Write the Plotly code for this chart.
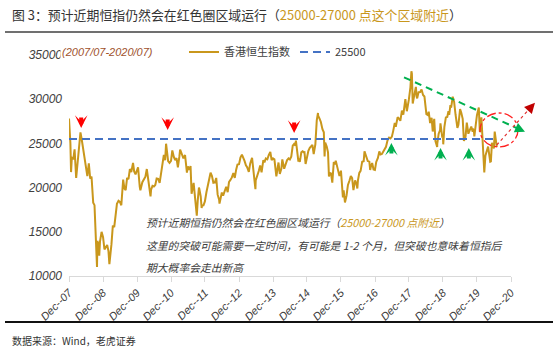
import plotly.graph_objects as go

# ---------------- data ----------------
dates = [
    "2007-12-31",
    "2008-01-15", "2008-01-22", "2008-01-31", "2008-02-15", "2008-02-29", "2008-03-17", "2008-03-31",
    "2008-04-15", "2008-04-30", "2008-05-02", "2008-05-15", "2008-05-30", "2008-06-16", "2008-06-30",
    "2008-07-15", "2008-07-31", "2008-08-15", "2008-08-29", "2008-09-16", "2008-09-30", "2008-10-10",
    "2008-10-27", "2008-10-31", "2008-11-14", "2008-11-20", "2008-11-28", "2008-12-15", "2008-12-31",
    "2009-01-15", "2009-01-30", "2009-02-13", "2009-02-27", "2009-03-09", "2009-03-31", "2009-04-15",
    "2009-04-30", "2009-05-15", "2009-05-29", "2009-06-15", "2009-06-30", "2009-07-15", "2009-07-31",
    "2009-08-04", "2009-08-17", "2009-08-31", "2009-09-15", "2009-09-30", "2009-10-15", "2009-10-30",
    "2009-11-18", "2009-11-30", "2009-12-15", "2009-12-31",
    "2010-01-11", "2010-01-29", "2010-02-05", "2010-02-26", "2010-03-15", "2010-03-31", "2010-04-15",
    "2010-04-30", "2010-05-25", "2010-05-31", "2010-06-15", "2010-06-30", "2010-07-15", "2010-07-30",
    "2010-08-15", "2010-08-31", "2010-09-15", "2010-09-30", "2010-10-15", "2010-10-29", "2010-11-08",
    "2010-11-30", "2010-12-15", "2010-12-31",
    "2011-01-14", "2011-01-31", "2011-02-14", "2011-02-28", "2011-03-15", "2011-03-31", "2011-04-08",
    "2011-04-29", "2011-05-13", "2011-05-31", "2011-06-20", "2011-06-30", "2011-07-15", "2011-07-29",
    "2011-08-09", "2011-08-31", "2011-09-15", "2011-09-30", "2011-10-04", "2011-10-14", "2011-10-27",
    "2011-10-31", "2011-11-15", "2011-11-25", "2011-11-30", "2011-12-15", "2011-12-30",
    "2012-01-16", "2012-01-31", "2012-02-15", "2012-02-29", "2012-03-15", "2012-03-30", "2012-04-16",
    "2012-04-30", "2012-05-15", "2012-05-31", "2012-06-04", "2012-06-29", "2012-07-13", "2012-07-31",
    "2012-08-15", "2012-08-31", "2012-09-14", "2012-09-28", "2012-10-15", "2012-10-31", "2012-11-15",
    "2012-11-30", "2012-12-14", "2012-12-31",
    "2013-01-15", "2013-01-31", "2013-02-15", "2013-02-28", "2013-03-15", "2013-03-28", "2013-04-15",
    "2013-04-30", "2013-05-20", "2013-05-31", "2013-06-25", "2013-06-28", "2013-07-15", "2013-07-31",
    "2013-08-15", "2013-08-30", "2013-09-18", "2013-09-30", "2013-10-15", "2013-10-31", "2013-11-15",
    "2013-11-29", "2013-12-02", "2013-12-16", "2013-12-31",
    "2014-01-15", "2014-01-31", "2014-02-05", "2014-02-28", "2014-03-14", "2014-03-31", "2014-04-10",
    "2014-04-30", "2014-05-15", "2014-05-30", "2014-06-16", "2014-06-30", "2014-07-15", "2014-07-31",
    "2014-08-15", "2014-08-29", "2014-09-03", "2014-09-15", "2014-09-30", "2014-10-06", "2014-10-15",
    "2014-10-31", "2014-11-14", "2014-11-28", "2014-12-04", "2014-12-16", "2014-12-31",
    "2015-01-15", "2015-01-30", "2015-02-16", "2015-02-27", "2015-03-13", "2015-03-31", "2015-04-15",
    "2015-04-28", "2015-04-30", "2015-05-15", "2015-05-29", "2015-06-15", "2015-06-30", "2015-07-08",
    "2015-07-15", "2015-07-31", "2015-08-14", "2015-08-24", "2015-08-31", "2015-09-15", "2015-09-29",
    "2015-10-15", "2015-10-30", "2015-11-05", "2015-11-30", "2015-12-15", "2015-12-31",
    "2016-01-15", "2016-01-21", "2016-01-29", "2016-02-12", "2016-02-29", "2016-03-15", "2016-03-31",
    "2016-04-15", "2016-04-29", "2016-05-13", "2016-05-31", "2016-06-15", "2016-06-24", "2016-06-30",
    "2016-07-15", "2016-07-29", "2016-08-15", "2016-08-31", "2016-09-09", "2016-09-30", "2016-10-14",
    "2016-10-31", "2016-11-09", "2016-11-15", "2016-11-30", "2016-12-15", "2016-12-30",
    "2017-01-13", "2017-01-31", "2017-02-15", "2017-02-28", "2017-03-15", "2017-03-31", "2017-04-13",
    "2017-04-28", "2017-05-15", "2017-05-31", "2017-06-15", "2017-06-30", "2017-07-14", "2017-07-31",
    "2017-08-11", "2017-08-31", "2017-09-15", "2017-09-29", "2017-10-16", "2017-10-31", "2017-11-22",
    "2017-11-30", "2017-12-08", "2017-12-29",
    "2018-01-15", "2018-01-26", "2018-01-31", "2018-02-09", "2018-02-28", "2018-03-15", "2018-03-23",
    "2018-03-29", "2018-04-13", "2018-04-30", "2018-05-15", "2018-05-31", "2018-06-15", "2018-06-29",
    "2018-07-06", "2018-07-20", "2018-07-31", "2018-08-15", "2018-08-31", "2018-09-12", "2018-09-28",
    "2018-10-11", "2018-10-30", "2018-10-31", "2018-11-15", "2018-11-30", "2018-12-04", "2018-12-24",
    "2018-12-31",
    "2019-01-03", "2019-01-15", "2019-01-31", "2019-02-15", "2019-02-28", "2019-03-08", "2019-03-21",
    "2019-03-29", "2019-04-15", "2019-04-30", "2019-05-15", "2019-05-31", "2019-06-04", "2019-06-15",
    "2019-06-28", "2019-07-03", "2019-07-15", "2019-07-31", "2019-08-13", "2019-08-30", "2019-09-13",
    "2019-09-30", "2019-10-15", "2019-10-31", "2019-11-15", "2019-11-18", "2019-11-29", "2019-12-03",
    "2019-12-31",
    "2020-01-20", "2020-01-31", "2020-02-03", "2020-02-17", "2020-02-28", "2020-03-13", "2020-03-19",
    "2020-03-31", "2020-04-15", "2020-04-29", "2020-05-22", "2020-05-29", "2020-06-09", "2020-06-30",
    "2020-07-09", "2020-07-20", "2020-07-31",
]

hsi = [
    27813,
    25000, 21757, 23456, 23200, 24332, 21084, 22849,
    24000, 25755, 26242, 25500, 24533, 23500, 22102,
    21300, 22731, 21000, 21261, 18300, 18016, 14800,
    11016, 13969, 13500, 12300, 13888, 15000, 14387,
    13000, 13278, 13500, 12812, 11345, 13576, 15700,
    15521, 17000, 18171, 18500, 18379, 18000, 20573,
    20900, 19900, 19724, 21100, 20955, 22100, 21753,
    22800, 21821, 21500, 21873,
    22300, 20122, 19700, 20609, 20900, 21239, 22100,
    21108, 19000, 19765, 20200, 20129, 20300, 21030,
    21000, 20537, 21700, 22359, 23700, 23096, 24965,
    23008, 22800, 23035,
    24200, 23447, 23100, 23338, 22300, 23528, 24300,
    23720, 23300, 23684, 21700, 22398, 22000, 22440,
    19300, 20535, 19000, 17592, 16822, 18500, 20000,
    19864, 19000, 17689, 17989, 18000, 18434,
    19500, 20390, 21300, 21680, 21300, 20556, 20600,
    21094, 19200, 18630, 18185, 19441, 19100, 19796,
    20100, 19482, 20630, 20840, 21150, 21642, 21100,
    22030, 22600, 22657,
    23400, 23730, 23400, 23020, 22530, 22300, 21770,
    22737, 23370, 22392, 19814, 20803, 21300, 21883,
    22500, 21731, 23100, 22860, 23300, 23206, 23660,
    23881, 24038, 23100, 23306,
    23200, 22035, 21269, 22837, 21539, 22151, 23186,
    22134, 22700, 23082, 23300, 23191, 23500, 24757,
    24950, 24742, 25318, 24300, 22933, 23300, 22900,
    23998, 24100, 23987, 24000, 22670, 23605,
    24150, 24507, 24700, 24823, 23800, 24901, 27600,
    28443, 28133, 27800, 27424, 26600, 26250, 23516,
    25100, 24636, 23990, 21251, 21671, 21600, 20556,
    22900, 22640, 23050, 21996, 21300, 21914,
    19520, 18886, 19683, 18320, 19112, 20300, 20777,
    21300, 21067, 19720, 20815, 20400, 19900, 20794,
    21660, 21891, 22930, 22977, 24100, 23297, 23000,
    22935, 22000, 22300, 22790, 22060, 22001,
    22900, 23361, 24100, 23741, 23800, 24112, 24250,
    24615, 25370, 25661, 25570, 25765, 26390, 27324,
    26880, 27970, 27800, 27554, 28700, 28246, 30003,
    29177, 28640, 29919,
    31300, 33154, 32887, 29507, 30845, 31400, 30309,
    30093, 30800, 30808, 31100, 30469, 30300, 28955,
    28316, 28220, 28583, 27300, 27889, 26345, 27789,
    25266, 24586, 24980, 26100, 26507, 27260, 25650,
    25846,
    24896, 26830, 27942, 28000, 28633, 28228, 29320,
    29051, 30280, 29699, 28270, 26901, 26762, 27100,
    28543, 28875, 28500, 27778, 25281, 25725, 27350,
    26092, 26500, 26906, 26327, 26680, 26346, 25800,
    28189,
    29056, 26313, 26356, 27960, 26130, 24000, 21709,
    23603, 24145, 24643, 22930, 22961, 25057, 24427,
    26339, 25057, 24595,
]

ref_level = 25500
tick_dates = ["%d-12-31" % y for y in range(2007, 2021)]
tick_labels = ["Dec--%02d" % (y % 100) for y in range(2007, 2021)]
y_ticks = [10000, 15000, 20000, 25000, 30000, 35000]

down_arrow_dates = ["2008-05-10", "2010-11-25", "2014-08-15"]
down_arrow_vals = [26750, 26520, 26180]
up_arrow_dates = ["2017-06-25", "2018-12-05", "2019-10-05"]
up_arrow_vals = [25050, 24480, 24480]

GOLD = "#C9971C"
BLUE = "#4472C4"
GREEN = "#00B050"
CJK = "Noto Sans CJK SC"
LAT = "Liberation Sans"

# plot area in pixels
L, R, T, B = 69, 511, 55, 276
W, H = R - L, B - T


def px(x):
    return (x - L) / W


def py(y):
    return (B - y) / H


fig = go.Figure()
fig.add_trace(go.Scatter(x=dates, y=hsi, mode="lines", name="香港恒生指数",
                         line=dict(color=GOLD, width=2)))
fig.add_trace(go.Scatter(x=[dates[0], dates[-1]], y=[ref_level, ref_level], mode="lines",
                         name="25500", line=dict(color=BLUE, width=2, dash="8px,5px")))

annotations = []


def block_arrow(d, v, direction, color):
    # direction: -1 => arrow points down (tail above), +1 => arrow points up (tail below)
    sgn = -1 if direction < 0 else 1
    # shaft
    annotations.append(dict(x=d, y=v, xref="x", yref="y", text="", showarrow=True,
                            ax=0, ay=sgn * 12, arrowhead=0, arrowwidth=4, standoff=4,
                            arrowcolor=color))
    # head
    annotations.append(dict(x=d, y=v, xref="x", yref="y", text="", showarrow=True,
                            ax=0, ay=sgn * 5, arrowhead=3, arrowwidth=1, arrowsize=2.1,
                            arrowcolor=color))


for d, v in zip(down_arrow_dates, down_arrow_vals):
    block_arrow(d, v, -1, "#FF0000")
for d, v in zip(up_arrow_dates, up_arrow_vals):
    block_arrow(d, v, 1, GREEN)

# green dashed trend line arrowhead
annotations.append(dict(x=px(525), y=py(131.7), xref="paper", yref="paper", text="",
                        showarrow=True, ax=-0.912 * 8, ay=-0.41 * 8, arrowhead=2,
                        arrowsize=1.0, arrowwidth=2, arrowcolor=GREEN))
# red dotted arrowhead
annotations.append(dict(x=px(535), y=py(102.7), xref="paper", yref="paper", text="",
                        showarrow=True, ax=-0.671 * 8, ay=0.741 * 8, arrowhead=2,
                        arrowsize=1.4, arrowwidth=1.5, arrowcolor="#C00000"))

# title
annotations.append(dict(
    x=px(10), y=py(14), xref="paper", yref="paper", xanchor="left", yanchor="middle",
    showarrow=False,
    text="图 3：预计近期恒指仍然会在红色圈区域运行（<span style='color:%s'>25000-27000 点这个区域附近</span>）" % GOLD,
    font=dict(family=CJK, size=12.9, color="#333333")))
# source
annotations.append(dict(
    x=px(10), y=py(340), xref="paper", yref="paper", xanchor="left", yanchor="middle",
    showarrow=False, text="数据来源：Wind，老虎证券",
    font=dict(family=CJK, size=10, color="#333333")))
# period caption
annotations.append(dict(
    x=px(60), y=py(52), xref="paper", yref="paper", xanchor="left", yanchor="middle",
    showarrow=False, text="(2007/07-2020/07)", bgcolor="white",
    font=dict(family=LAT, size=11, color="#A0522D", style="italic")))
# comment lines
comment_lines = [
    "预计近期恒指仍然会在红色圈区域运行（<span style='color:%s'>25000-27000 点附近</span>）" % GOLD,
    "这里的突破可能需要一定时间，有可能是 1-2 个月，但突破也意味着恒指后",
    "期大概率会走出新高",
]
for i, line in enumerate(comment_lines):
    annotations.append(dict(
        x=px(144), y=py(222 + 22.5 * i), xref="paper", yref="paper", xanchor="left",
        yanchor="middle", showarrow=False, text=line,
        font=dict(family=CJK, size=10.8, color="#404040", style="italic")))

shapes = [
    dict(type="line", xref="paper", yref="paper", x0=px(5), x1=px(553), y0=py(32), y1=py(32),
         line=dict(color="#404040", width=1.5)),
    dict(type="line", xref="paper", yref="paper", x0=px(5), x1=px(553), y0=py(322), y1=py(322),
         line=dict(color="#111111", width=2)),
    # green dashed trend line
    dict(type="line", xref="paper", yref="paper", x0=px(404), y0=py(77.3), x1=px(520), y1=py(129.5),
         line=dict(color=GREEN, width=2, dash="7px,5px")),
    # red dotted arrow line
    dict(type="line", xref="paper", yref="paper", x0=px(496.7), y0=py(145), x1=px(532), y1=py(106),
         line=dict(color="#E03030", width=1.2, dash="dot")),
    # red dash-dot ellipse
    dict(type="circle", xref="paper", yref="paper", x0=px(480), x1=px(518), y0=py(147), y1=py(113),
         line=dict(color="#FF2020", width=1.3, dash="dashdot")),
]

fig.update_layout(
    width=558, height=352,
    margin=dict(l=L, r=558 - R, t=T, b=352 - B),
    paper_bgcolor="white", plot_bgcolor="white",
    showlegend=True,
    legend=dict(orientation="h", x=px(184), y=py(52), xanchor="left", yanchor="middle",
                font=dict(family=CJK, size=11, color="#404040"), itemwidth=30,
                bgcolor="rgba(0,0,0,0)", tracegroupgap=0),
    annotations=annotations,
    shapes=shapes,
    xaxis=dict(type="date", range=[tick_dates[0], tick_dates[-1]], tickvals=tick_dates,
               ticktext=tick_labels, tickangle=-45, showgrid=False, zeroline=False,
               showline=True, linecolor="#D9D9D9", linewidth=1, ticks="outside",
               ticklen=5, tickcolor="#D9D9D9",
               tickfont=dict(family=LAT, size=11, color="#404040", style="italic")),
    yaxis=dict(range=[10000, 35000], tickvals=y_ticks, tickformat="d", showgrid=False,
               zeroline=False, showline=False, ticks="", ticklabelstandoff=6,
               tickfont=dict(family=LAT, size=12, color="#404040", style="italic")),
)

fig.write_html("out.html")
